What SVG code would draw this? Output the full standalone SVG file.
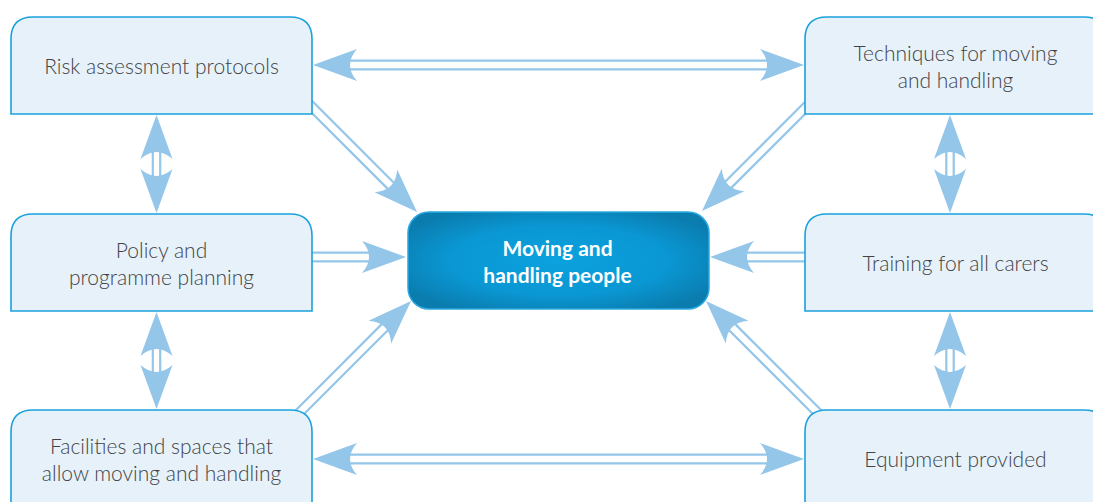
<svg xmlns="http://www.w3.org/2000/svg" xmlns:xlink="http://www.w3.org/1999/xlink" width="1093" height="502" viewBox="0 0 1093 502">
  <style>
    .box { fill: #e6f1fa; stroke: #1ba1dc; stroke-width: 1.6; }
    .lbl { font-family: Lato, "Open Sans", "Liberation Sans", sans-serif; font-size: 21px; font-weight: 300; fill: #434346; text-anchor: middle; }
    .hub { font-family: Lato, "Open Sans", "Liberation Sans", sans-serif; font-size: 21px; font-weight: bold; fill: #ffffff; text-anchor: middle; }
    .head { fill: #94c6ea; }
    .shaft { stroke: #94c6ea; stroke-width: 2.2; fill: none; }
  </style>
  <defs>
    <!-- arrowhead with a swept-back base, tip at the origin pointing along +x -->
    <path id="hd" class="head" d="M0,0 L-44,-16 Q-30,0 -44,16 Z"/>
    <radialGradient id="hubFill" cx="0.5" cy="0.5" r="0.6">
      <stop offset="0" stop-color="#0ba2df"/>
      <stop offset="0.6" stop-color="#0a97d3"/>
      <stop offset="1" stop-color="#0a7cae"/>
    </radialGradient>
  </defs>

  <rect width="1093" height="502" fill="#ffffff"/>

  <g id="connectors">
    <!-- top row: Risk assessment <-> Techniques -->
    <g>
      <line class="shaft" x1="345" y1="60.7" x2="772" y2="60.7"/>
      <line class="shaft" x1="345" y1="69.3" x2="772" y2="69.3"/>
      <use xlink:href="#hd" transform="translate(313,65) rotate(180)"/>
      <use xlink:href="#hd" transform="translate(804,65)"/>
    </g>
    <!-- bottom row: Facilities <-> Equipment -->
    <g>
      <line class="shaft" x1="345" y1="454.7" x2="772" y2="454.7"/>
      <line class="shaft" x1="345" y1="463.3" x2="772" y2="463.3"/>
      <use xlink:href="#hd" transform="translate(313,459) rotate(180)"/>
      <use xlink:href="#hd" transform="translate(804,459)"/>
    </g>
    <!-- Policy -> hub -->
    <g>
      <line class="shaft" x1="305" y1="252.7" x2="370" y2="252.7"/>
      <line class="shaft" x1="305" y1="261.3" x2="370" y2="261.3"/>
      <use xlink:href="#hd" transform="translate(406,257)"/>
    </g>
    <!-- Training -> hub -->
    <g>
      <line class="shaft" x1="746" y1="252.7" x2="812" y2="252.7"/>
      <line class="shaft" x1="746" y1="261.3" x2="812" y2="261.3"/>
      <use xlink:href="#hd" transform="translate(710,257) rotate(180)"/>
    </g>
    <!-- Risk assessment -> hub -->
    <g transform="translate(417,212) rotate(45)">
      <line class="shaft" x1="-160" y1="-4.3" x2="-37" y2="-4.3"/>
      <line class="shaft" x1="-160" y1="4.3" x2="-37" y2="4.3"/>
      <use xlink:href="#hd"/>
    </g>
    <!-- Facilities -> hub -->
    <g transform="translate(411,301) rotate(-45)">
      <line class="shaft" x1="-170" y1="-4.3" x2="-37" y2="-4.3"/>
      <line class="shaft" x1="-170" y1="4.3" x2="-37" y2="4.3"/>
      <use xlink:href="#hd"/>
    </g>
    <!-- Techniques -> hub -->
    <g transform="translate(702,211) rotate(135)">
      <line class="shaft" x1="-160" y1="-4.3" x2="-37" y2="-4.3"/>
      <line class="shaft" x1="-160" y1="4.3" x2="-37" y2="4.3"/>
      <use xlink:href="#hd"/>
    </g>
    <!-- Equipment -> hub -->
    <g transform="translate(706,301) rotate(-135)">
      <line class="shaft" x1="-170" y1="-4.3" x2="-37" y2="-4.3"/>
      <line class="shaft" x1="-170" y1="4.3" x2="-37" y2="4.3"/>
      <use xlink:href="#hd"/>
    </g>
    <!-- left column verticals -->
    <g>
      <line class="shaft" x1="152.8" y1="150" x2="152.8" y2="178"/>
      <line class="shaft" x1="160.2" y1="150" x2="160.2" y2="178"/>
      <use xlink:href="#hd" transform="translate(156.5,115) rotate(-90)"/>
      <use xlink:href="#hd" transform="translate(156.5,213) rotate(90)"/>
    </g>
    <g>
      <line class="shaft" x1="152.8" y1="347" x2="152.8" y2="374"/>
      <line class="shaft" x1="160.2" y1="347" x2="160.2" y2="374"/>
      <use xlink:href="#hd" transform="translate(156.5,312) rotate(-90)"/>
      <use xlink:href="#hd" transform="translate(156.5,409) rotate(90)"/>
    </g>
    <!-- right column verticals -->
    <g>
      <line class="shaft" x1="946.3" y1="150" x2="946.3" y2="178"/>
      <line class="shaft" x1="953.7" y1="150" x2="953.7" y2="178"/>
      <use xlink:href="#hd" transform="translate(950,115) rotate(-90)"/>
      <use xlink:href="#hd" transform="translate(950,213) rotate(90)"/>
    </g>
    <g>
      <line class="shaft" x1="946.3" y1="347" x2="946.3" y2="374"/>
      <line class="shaft" x1="953.7" y1="347" x2="953.7" y2="374"/>
      <use xlink:href="#hd" transform="translate(950,312) rotate(-90)"/>
      <use xlink:href="#hd" transform="translate(950,409) rotate(90)"/>
    </g>
  </g>

  <g id="risk">
    <path class="box" d="M11,114 V39 Q11,17 33,17 H290 Q312,17 312,39 V114 Z"/>
    <text class="lbl" x="161.5" y="74">Risk assessment protocols</text>
  </g>
  <g id="policy">
    <path class="box" d="M11,311 V236 Q11,214 33,214 H290 Q312,214 312,236 V311 Z"/>
    <text class="lbl" x="161.5" y="257.5">Policy and</text>
    <text class="lbl" x="161.5" y="284.5">programme planning</text>
  </g>
  <g id="facilities">
    <path class="box" d="M11,507 V432 Q11,410 33,410 H290 Q312,410 312,432 V507 Z"/>
    <text class="lbl" x="161.5" y="453.5">Facilities and spaces that</text>
    <text class="lbl" x="161.5" y="480.5">allow moving and handling</text>
  </g>
  <g id="techniques">
    <path class="box" d="M805,114 V39 Q805,17 827,17 H1084 Q1106,17 1106,39 V114 Z"/>
    <text class="lbl" x="955.5" y="60.5">Techniques for moving</text>
    <text class="lbl" x="955.5" y="87.5">and handling</text>
  </g>
  <g id="training">
    <path class="box" d="M805,311 V236 Q805,214 827,214 H1084 Q1106,214 1106,236 V311 Z"/>
    <text class="lbl" x="955.5" y="271">Training for all carers</text>
  </g>
  <g id="equipment">
    <path class="box" d="M805,507 V432 Q805,410 827,410 H1084 Q1106,410 1106,432 V507 Z"/>
    <text class="lbl" x="955.5" y="467">Equipment provided</text>
  </g>
  <g id="hub">
    <rect x="408" y="212" width="301" height="97" rx="21" ry="21" fill="url(#hubFill)" stroke="#2aa9e0" stroke-width="1.5"/>
    <text class="hub" x="557.5" y="255.5">Moving and</text>
    <text class="hub" x="557.5" y="282.5">handling people</text>
  </g>
</svg>
